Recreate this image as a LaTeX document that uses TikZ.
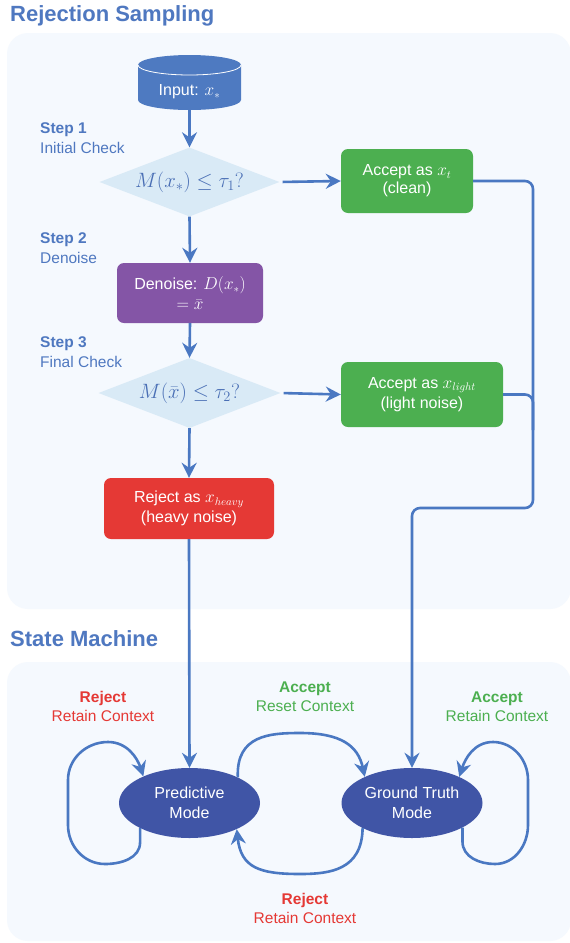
\documentclass[tikz,border=0pt]{standalone}
\usepackage{fontspec}
\setmainfont{Liberation Sans}
\usetikzlibrary{arrows.meta,shapes.geometric}
\definecolor{lineblue}{HTML}{4A78C2}
\definecolor{titleblue}{HTML}{4F78C0}
\definecolor{cylblue}{HTML}{4E7AC1}
\definecolor{diafill}{HTML}{D9EAF6}
\definecolor{mathblue}{HTML}{4A6FB5}
\definecolor{accgreen}{HTML}{4CAF50}
\definecolor{denpurple}{HTML}{8455A6}
\definecolor{rejred}{HTML}{E53935}
\definecolor{statefill}{HTML}{4055A6}
\definecolor{panelfill}{HTML}{F5F9FE}
\begin{document}
\begin{tikzpicture}[x=1pt,y=1pt,
  titletext/.style={anchor=base west,inner sep=0,text=titleblue,font=\fontsize{22}{26}\selectfont\bfseries},
  steptext/.style={anchor=base west,inner sep=0,text=titleblue,font=\fontsize{15.5}{19}\selectfont},
  lbl/.style={anchor=base,inner sep=0,font=\fontsize{15.5}{19}\selectfont},
  boxnode/.style={rectangle,rounded corners=7pt,inner sep=0,text=white,align=center,font=\fontsize{16}{20}\selectfont},
  decision/.style={diamond,aspect=2.6,inner sep=0,fill=diafill,text=mathblue,font=\fontsize{20}{22}\selectfont},
  statenode/.style={ellipse,inner sep=0,minimum width=141pt,minimum height=70pt,fill=statefill,text=white,align=center,font=\fontsize{16}{20}\selectfont},
  arr/.style={draw=lineblue,line width=2.6pt,-{Stealth[length=15pt,width=15pt,inset=5pt]}},
  conn/.style={draw=lineblue,line width=2.6pt,rounded corners=8pt}]
\useasboundingbox (0,0) rectangle (570,-943);
\fill[white] (0,0) rectangle (570,-943);
% panels
\fill[panelfill,rounded corners=21pt] (7,-33) rectangle (571,-609);
\fill[panelfill,rounded corners=21pt] (7,-662) rectangle (571,-941);
% titles
\node[titletext] (title1) at (10,-21.5) {Rejection Sampling};
\node[titletext] (title2) at (10,-646) {State Machine};
% steps
\node[steptext,font=\fontsize{15.5}{19}\selectfont\bfseries] (s1a) at (40,-133) {Step 1};
\node[steptext] (s1b) at (40,-153) {Initial Check};
\node[steptext,font=\fontsize{15.5}{19}\selectfont\bfseries] (s2a) at (40,-243) {Step 2};
\node[steptext] (s2b) at (40,-263) {Denoise};
\node[steptext,font=\fontsize{15.5}{19}\selectfont\bfseries] (s3a) at (40,-347) {Step 3};
\node[steptext] (s3b) at (40,-367) {Final Check};
% cylinder
\fill[cylblue] (138,-65) -- (138,-100) arc[start angle=180,end angle=360,x radius=51.5,y radius=10] -- (241,-65) arc[start angle=0,end angle=180,x radius=51.5,y radius=10] -- cycle;
\draw[white,line width=0.8pt] (138,-65) arc[start angle=180,end angle=360,x radius=51.5,y radius=10];
\node[inner sep=0,text=white,font=\fontsize{16}{20}\selectfont] (input) at (189.5,-92) {Input: $x_*$};
\coordinate (inbot) at (189.5,-110);
% flow nodes
\node[decision,minimum width=180pt,minimum height=69pt] (d1) at (189.5,-182) {$M(x_*) \le \tau_1?$};
\node[boxnode,fill=accgreen,minimum width=132pt,minimum height=64pt] (acc1) at (407,-181) {\raisebox{-2pt}{Accept as $x_t$}\\(clean)};
\node[boxnode,fill=denpurple,minimum width=146pt,minimum height=60pt] (den) at (190,-293) {Denoise: $D(x_*)$\\$= \bar{x}$};
\node[decision,minimum width=182pt,minimum height=70pt] (d2) at (189.5,-393) {$M(\bar{x}) \le \tau_2?$};
\node[boxnode,fill=accgreen,minimum width=162pt,minimum height=65pt] (acc2) at (422,-394.5) {Accept as $x_{light}$\\(light noise)};
\node[boxnode,fill=rejred,minimum width=170pt,minimum height=61pt] (rej) at (189,-508.5) {Reject as $x_{heavy}$\\(heavy noise)};
% state nodes
\node[statenode] (pm) at (189.5,-803) {Predictive\\Mode};
\node[statenode] (gt) at (412,-803) {Ground Truth\\Mode};
% labels
\node[lbl,text=rejred,font=\fontsize{15.5}{19}\selectfont\bfseries] (l1a) at (103,-702) {Reject};
\node[lbl,text=rejred] (l1b) at (103,-721) {Retain Context};
\node[lbl,text=accgreen,font=\fontsize{15.5}{19}\selectfont\bfseries] (l2a) at (305,-692) {Accept};
\node[lbl,text=accgreen] (l2b) at (305,-711) {Reset Context};
\node[lbl,text=accgreen,font=\fontsize{15.5}{19}\selectfont\bfseries] (l3a) at (497,-702) {Accept};
\node[lbl,text=accgreen] (l3b) at (497,-721) {Retain Context};
\node[lbl,text=rejred,font=\fontsize{15.5}{19}\selectfont\bfseries] (l4a) at (305,-904) {Reject};
\node[lbl,text=rejred] (l4b) at (305,-923) {Retain Context};
% flow connectors
\draw[arr] (inbot) -- (d1.north);
\draw[arr] (d1.south) -- (den.north);
\draw[arr] (den.south) -- (d2.north);
\draw[arr] (d2.south) -- (rej.north);
\draw[arr,shorten <=3pt] (d1.east) -- (acc1.west);
\draw[arr,shorten <=3pt] (d2.east) -- (acc2.west);
\draw[arr] (rej.south) -- (pm.north);
\draw[conn] (acc2.east) -- (533,-394.5) -- (533,-430);
\draw[arr,rounded corners=8pt] (acc1.east) -- (533,-181) -- (533,-508) -- (412,-508) -- (gt.north);
% state connectors
\draw[arr] (pm.207) -- ++(0,-14) to[out=-90,in=0] (105,-864) to[out=180,in=-90] (68,-825) -- (68,-780) to[out=90,in=180] (108,-742) to[out=0,in=108] (pm.150);
\draw[arr] (gt.334) -- ++(0,-14) to[out=-90,in=180] (495,-864) to[out=0,in=-90] (528,-825) -- (528,-780) to[out=90,in=0] (493,-742) to[out=180,in=72] (gt.29);
\draw[arr] (pm.28) .. controls (236,-735) and (270,-733) .. (300,-733) .. controls (340,-733) and (358,-745) .. (gt.151);
\draw[arr] (gt.207) .. controls (362,-870) and (330,-874) .. (300,-874) .. controls (260,-874) and (241,-868) .. (pm.331);
\end{tikzpicture}
\end{document}
